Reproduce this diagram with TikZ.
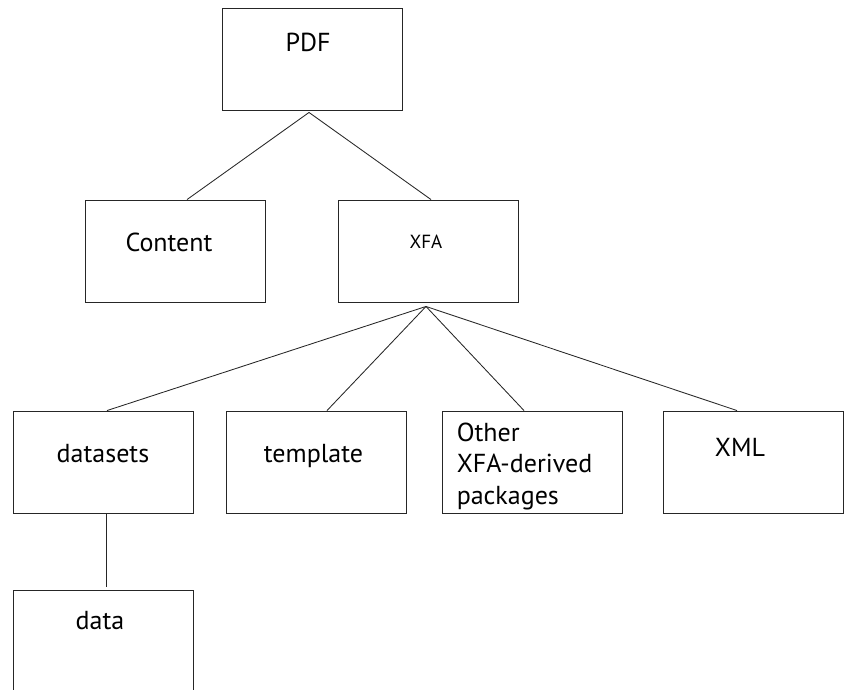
\documentclass[tikz,border=0pt]{standalone}
\usepackage{fontspec}
\setmainfont{PT Sans}
\tikzset{
  box/.style={draw=black!85,line width=0.9pt,minimum width=180pt,minimum height=102pt,inner sep=0pt},
  boxtext/.style={text height=18pt,text depth=0pt,inner sep=0pt},
  link/.style={draw=black!85,line width=0.85pt},
}
\begin{document}
\begin{tikzpicture}[x=1pt,y=-1pt,font=\fontsize{26}{31.5}\selectfont]
  \useasboundingbox (0,0) rectangle (848,689);
  %top
  \node[box,label={[boxtext,xshift=-4,yshift=17]center:PDF}] (pdf) at (312,59) {};
  %second row
  \node[box,label={[boxtext,xshift=-6,yshift=9]center:Content}] (content) at (175,251) {};
  \node[box,label={[boxtext,text height=13.3pt,font=\fontsize{19}{23}\selectfont,xshift=-2,yshift=9]center:XFA}] (xfa) at (428,251) {};
  %third row
  \node[box,label={[boxtext,yshift=9]center:datasets}] (datasets) at (103,462) {};
  \node[box,label={[boxtext,xshift=-3,yshift=9]center:template}] (template) at (316.5,462) {};
  \node[box,label={[anchor=north west,align=left,inner sep=0pt,xshift=15,yshift=-12]north west:Other\\XFA-derived\\packages}] (other) at (532,462) {};
  \node[box,label={[boxtext,xshift=-13,yshift=15]center:XML}] (xml) at (753,462) {};
  %bottom
  \node[box,label={[boxtext,xshift=-3,yshift=21]center:data}] (data) at (103,641) {};

  %PDF
  \draw[link] ([xshift=-3,yshift=-2]pdf.south) -- ([xshift=12]content.north);
  \draw[link] ([xshift=-3,yshift=-2]pdf.south) -- ([xshift=3]xfa.north);
  %XFA
  \coordinate (fan) at ([xshift=-2,yshift=-4]xfa.south);
  \draw[link] (fan) -- ([xshift=4]datasets.north);
  \draw[link] (fan) -- ([xshift=10.5]template.north);
  \draw[link] (fan) -- ([xshift=-8]other.north);
  \draw[link] (fan) -- ([xshift=-16]xml.north);
  %datasets
  \draw[link] ([xshift=3]datasets.south) -- ([xshift=3,yshift=3]data.north);
\end{tikzpicture}
\end{document}
